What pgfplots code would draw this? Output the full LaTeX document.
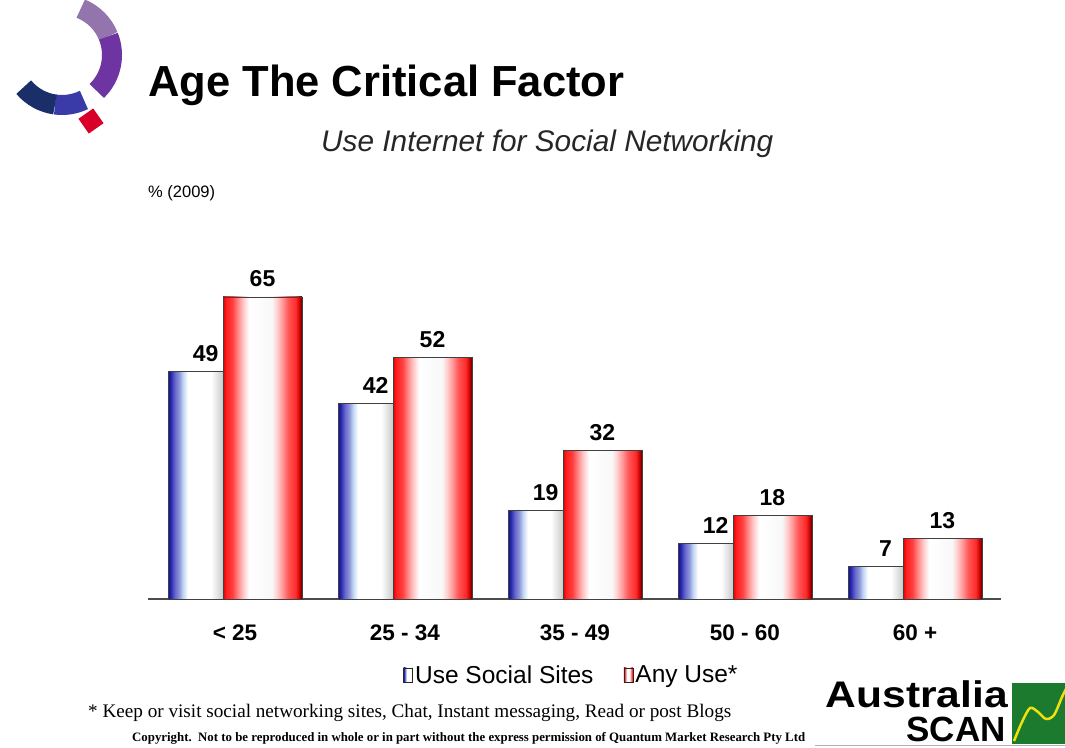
\documentclass[border=0pt]{standalone}
\usepackage{pgfplots}
\pgfplotsset{compat=1.18}
\usepackage{fontspec}
\setmainfont{Liberation Sans}
\newfontfamily\seriffont{Liberation Serif}
% blue bar colours
\definecolor{bA}{HTML}{10108C}
\definecolor{bB}{HTML}{2828B0}
\definecolor{bC}{HTML}{6464CC}
\definecolor{bD}{HTML}{8C94D8}
\definecolor{bE}{HTML}{C0D4F4}
\definecolor{gA}{HTML}{E2E2E2}
\definecolor{gB}{HTML}{C8C8C8}
% red bar colours
\definecolor{rA}{HTML}{E00000}
\definecolor{rB}{HTML}{FF2020}
\definecolor{rC}{HTML}{FF4040}
\definecolor{rD}{HTML}{FF8080}
\definecolor{rE}{HTML}{FFC4C4}
\definecolor{rF}{HTML}{F8F8F8}
\definecolor{rG}{HTML}{FFD0D0}
\definecolor{rH}{HTML}{FF9A9A}
\definecolor{rI}{HTML}{FF5A5A}
\definecolor{rJ}{HTML}{FF2A2A}
\definecolor{rK}{HTML}{C00000}
\definecolor{rL}{HTML}{500000}
% logo colours
\definecolor{lMauve}{HTML}{9474AC}
\definecolor{lPurple}{HTML}{6E34A2}
\definecolor{lBlue}{HTML}{3A3AA8}
\definecolor{lNavy}{HTML}{1A2F6A}
\definecolor{lRed}{HTML}{D8002A}
\definecolor{scanGreen}{HTML}{1C7A2E}
\definecolor{scanYellow}{HTML}{F0E010}
\pgfdeclarehorizontalshading{blueshade}{100bp}{color(0bp)=(bA); color(25bp)=(bA); color(27.5bp)=(bB); color(31bp)=(bC); color(35bp)=(bD); color(38.5bp)=(bE); color(43bp)=(white); color(64bp)=(white); color(70bp)=(gA); color(75bp)=(gB); color(100bp)=(gB)}
\pgfdeclarehorizontalshading{redshade}{100bp}{color(0bp)=(rA); color(25bp)=(rA); color(27bp)=(rB); color(31bp)=(rC); color(34bp)=(rD); color(37.5bp)=(rE); color(41.5bp)=(white); color(56bp)=(rF); color(59bp)=(rG); color(62.5bp)=(rH); color(66bp)=(rI); color(71bp)=(rJ); color(73.5bp)=(rK); color(75bp)=(rL); color(100bp)=(rL)}
\pgfplotsset{
  bluebar/.style={ybar, bar width=0.324, bar shift=-0.232, shade, shading=blueshade,
    draw=black!75, line width=0.9pt, nodes near coords style={xshift=-29.4pt}},
  redbar/.style={ybar, bar width=0.465, bar shift=0.162, shade, shading=redshade,
    draw=black!75, line width=0.9pt, nodes near coords style={xshift=27.5pt}},
}
\begin{document}
\begin{tikzpicture}
\useasboundingbox (0,0) rectangle (1065pt,747pt);
% ---- logo top left
\draw[line width=20pt, lMauve] (62pt,692pt) ++(68:50pt) arc[start angle=68, end angle=22, radius=50pt];
\draw[line width=20pt, lPurple] (62pt,692pt) ++(22:50pt) arc[start angle=22, end angle=-46, radius=50pt];
\draw[line width=20pt, lBlue] (62pt,692pt) ++(-64:50pt) arc[start angle=-64, end angle=-98, radius=50pt];
\draw[line width=20pt, lNavy] (62pt,692pt) ++(-98:50pt) arc[start angle=-98, end angle=-140, radius=50pt];
\node[fill=lRed, minimum size=18pt, inner sep=0pt, rotate=35] at (91pt,626pt) {};
% ---- titles
\node[anchor=base west, inner sep=0pt, font=\bfseries\fontsize{43.5}{44}\selectfont] at (148pt,650pt) {Age The Critical Factor};
\node[anchor=base west, inner sep=0pt, font=\itshape\fontsize{29.8}{30}\selectfont, text=black!85] at (321pt,595pt) {Use Internet for Social Networking};
\node[anchor=base west, inner sep=0pt, font=\fontsize{16.5}{17}\selectfont] at (148pt,549pt) {\% (2009)};
% ---- chart
\begin{axis}[
  at={(148pt,148pt)}, anchor=south west, scale only axis,
  width=853pt, height=348.5pt,
  xmin=-0.5118, xmax=4.506, ymin=0, ymax=75,
  axis x line=bottom, axis y line=none,
  x axis line style={-, draw=black!70, line width=1.6pt},
  xtick={0,1,2,3,4},
  xticklabels={< 25, 25 - 34, 35 - 49, 50 - 60, 60 +},
  major tick length=0pt, ytick=\empty,
  xticklabel style={font=\bfseries\fontsize{22.5}{23}\selectfont, anchor=base, yshift=-41pt, inner sep=0pt},
  clip=false,
  /pgf/number format/assume math mode=true,
  nodes near coords,
  nodes near coords style={font=\bfseries\fontsize{23}{23}\selectfont, text=black, anchor=south, inner sep=0pt, yshift=9.5pt},
  legend columns=2,
  legend style={at={(0.299,-0.218)}, anchor=west, draw=none, fill=none, inner sep=0pt,
    font=\fontsize{24.5}{25}\selectfont,
    /tikz/every even column/.append style={column sep=28pt},
    nodes={inner sep=2pt}},
  legend image code/.code={\draw[#1, draw=black!85, line width=0.9pt] (0pt,-7pt) rectangle (9pt,7pt);},
]
% one \addplot per bar, so that each bar gets its own shading
\addplot[bluebar] coordinates {(0,49)};
\addplot[redbar] coordinates {(0,65)};
\addplot[bluebar, forget plot] coordinates {(1,42)};
\addplot[redbar, forget plot] coordinates {(1,52)};
\addplot[bluebar, forget plot] coordinates {(2,19)};
\addplot[redbar, forget plot] coordinates {(2,32)};
\addplot[bluebar, forget plot] coordinates {(3,12)};
\addplot[redbar, forget plot] coordinates {(3,18)};
\addplot[bluebar, forget plot] coordinates {(4,7)};
\addplot[redbar, forget plot] coordinates {(4,13)};
\legend{Use Social Sites, Any Use*}
\end{axis}
% ---- footnotes
\node[anchor=base west, inner sep=0pt] at (88pt,30pt) {\resizebox{643pt}{!}{\seriffont\fontsize{18}{18}\selectfont * Keep or visit social networking sites, Chat, Instant messaging, Read or post Blogs}};
\node[anchor=base west, inner sep=0pt] at (132pt,6pt) {\resizebox{673pt}{!}{\seriffont\bfseries\fontsize{12}{12}\selectfont Copyright.\ \ Not to be reproduced in whole or in part without the express permission of Quantum Market Research Pty Ltd}};
% ---- Australia SCAN logo
\fill[scanGreen] (1012pt,3pt) rectangle (1065pt,64pt);
\draw[scanYellow, line width=2.5pt, line join=round] plot[smooth] coordinates {(1014pt,6pt) (1022pt,25pt) (1030pt,39pt) (1038pt,35pt) (1046pt,28pt) (1054pt,32pt) (1062pt,50pt) (1066pt,58pt)};
\node[anchor=base east, inner sep=0pt] at (1008pt,39.5pt) {\scalebox{1.15}[1]{\bfseries\fontsize{37}{37}\selectfont Australia}};
\node[anchor=base east, inner sep=0pt] at (1006pt,6pt) {\bfseries\fontsize{35}{35}\selectfont SCAN};
\draw[black!30, line width=0.8pt] (815pt,2pt) -- (1065pt,2pt);
\end{tikzpicture}
\end{document}
